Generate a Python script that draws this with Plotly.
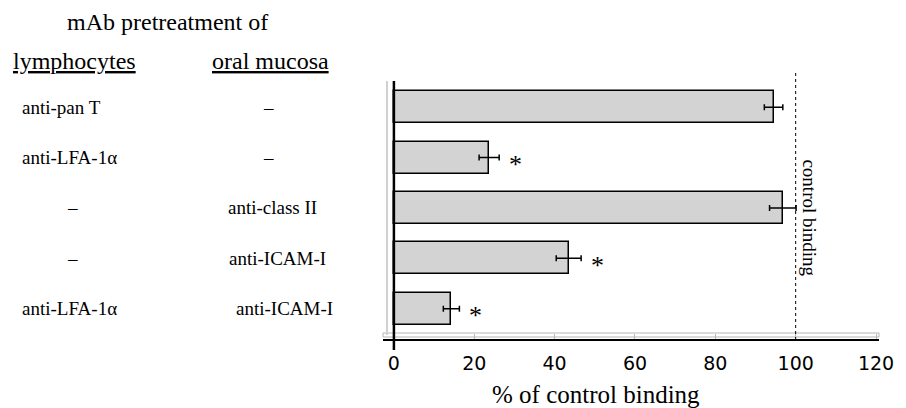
import plotly.graph_objects as go

# ---------------- data ----------------
lymph_labels = ["anti-pan T", "anti-LFA-1α", "–", "–", "anti-LFA-1α"]
mucosa_labels = ["–", "–", "anti-class II", "anti-ICAM-I", "anti-ICAM-I"]
values = [94.5, 23.7, 96.8, 43.5, 14.3]
errors = [2.3, 2.5, 3.3, 3.1, 2.0]
significant = [False, True, False, True, True]
x_ticks = [0, 20, 40, 60, 80, 100, 120]
control_level = 100

# ---------------- layout geometry (reference pixel coords) ----------------
OFF = 8                      # page body margin of the browser
W, H = 906 - OFF, 408 - OFF  # figure size
PL, PR, PT, PB = 383, 883, 82, 339  # plot area in reference pixels


def px_x(p):
    return (p - PL) / (PR - PL)


def px_y(p):
    return (PB - p) / (PB - PT)


SERIF = "Liberation Serif"
SANS = "DejaVu Sans"

positions = list(range(len(values)))

fig = go.Figure()
fig.add_trace(go.Bar(
    x=values,
    y=positions,
    orientation="h",
    width=0.635,
    marker=dict(color="#d3d3d3", line=dict(color="black", width=1.5)),
    error_x=dict(type="data", array=errors, color="black", thickness=1.5, width=3),
    hoverinfo="x",
))


def txt(text, x, y, size, xref="paper", yref="paper", xanchor="center", **kw):
    return dict(text=text, x=x, y=y, xref=xref, yref=yref, xanchor=xanchor,
                yanchor="middle", showarrow=False,
                font=dict(family=SERIF, size=size, color="black"), **kw)


annotations = []
# header
annotations.append(txt("mAb pretreatment of", px_x(166), px_y(22), 24))
annotations.append(txt("<u>lymphocytes</u>", px_x(72), px_y(61), 24))
annotations.append(txt("<u>oral mucosa</u>", px_x(270), px_y(61), 24))

mucosa_x = [268, 268, 272, 277, 284]
for i, (lab_l, lab_m) in enumerate(zip(lymph_labels, mucosa_labels)):
    if lab_l == "–":
        annotations.append(txt(lab_l, px_x(70), i, 19, yref="y"))
    else:
        annotations.append(txt(lab_l, px_x(17), i, 19, yref="y", xanchor="left"))
    annotations.append(txt(lab_m, px_x(mucosa_x[i]), i, 19, yref="y"))

# significance asterisks
for i, (v, e, s) in enumerate(zip(values, errors, significant)):
    if s:
        annotations.append(txt("*", v + e + 4, i, 26, xref="x", yref="y", yshift=-7))

# control binding label
annotations.append(txt("control binding", px_x(813), px_y(218), 19, textangle=90))

# axis title
annotations.append(txt("% of control binding", px_x(598), px_y(394), 25))

shapes = [
    # grey floor band
    dict(type="rect", xref="paper", yref="paper", x0=0, x1=1,
         y0=px_y(337), y1=px_y(333), line=dict(color="#b5b5b5", width=1),
         fillcolor="white", layer="below"),
    # grey left wall
    dict(type="line", xref="paper", yref="paper", x0=px_x(387), x1=px_x(387),
         y0=px_y(335), y1=px_y(81), line=dict(color="#d0d0d0", width=2)),
    # black value axis at zero
    dict(type="line", xref="x", yref="paper", x0=0, x1=0,
         y0=px_y(350), y1=px_y(81), line=dict(color="black", width=2.5)),
    # control binding reference line
    dict(type="line", xref="x", yref="paper", x0=control_level, x1=control_level,
         y0=px_y(340), y1=px_y(70), line=dict(color="black", width=1, dash="dot")),
]

x0_px = 394
px_per_unit = (799 - 394) / 100
fig.update_layout(
    width=W, height=H,
    margin=dict(l=PL - OFF, r=906 - PR, t=PT - OFF, b=408 - PB, pad=0),
    paper_bgcolor="white", plot_bgcolor="white",
    showlegend=False,
    bargap=0,
    xaxis=dict(
        range=[(PL - x0_px) / px_per_unit, (PR - x0_px) / px_per_unit],
        tickvals=x_ticks, ticktext=[str(t) for t in x_ticks],
        showgrid=False, zeroline=False,
        showline=True, linecolor="black", linewidth=2,
        ticks="inside", ticklen=5, tickcolor="#b5b5b5", tickwidth=1,
        tickfont=dict(family=SANS, size=19, color="black"),
        ticklabelstandoff=6,
        fixedrange=True,
    ),
    yaxis=dict(
        range=[4.6, -0.5],
        showticklabels=False, showgrid=False, zeroline=False,
        showline=False, ticks="",
        fixedrange=True,
    ),
    annotations=annotations,
    shapes=shapes,
)

fig.write_html("out.html")
